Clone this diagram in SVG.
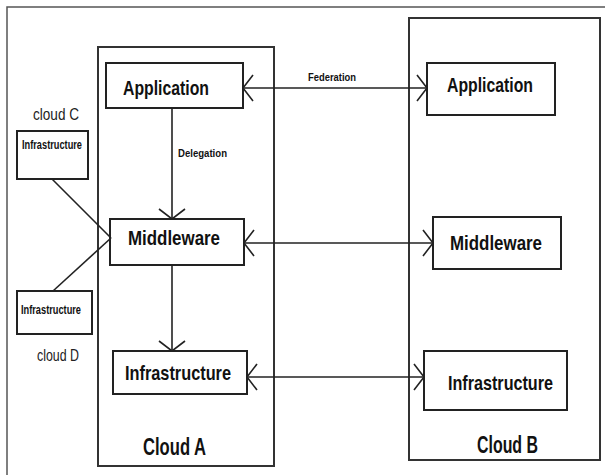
<svg xmlns="http://www.w3.org/2000/svg" width="605" height="475" viewBox="0 0 605 475">
<style>
.box{fill:#fff;stroke:#222;stroke-width:2}
.cloud{fill:none;stroke:#333;stroke-width:2}
.lbl{font-family:"Liberation Sans",Arial,sans-serif;font-weight:bold;fill:#111}
.reg{font-family:"Liberation Sans",Arial,sans-serif;fill:#222}
.ln{stroke:#222;stroke-width:1.6;fill:none}
</style>
<defs>
<marker id="ah" markerUnits="userSpaceOnUse" markerWidth="30" markerHeight="30" viewBox="-15 -15 30 30" refX="0" refY="0" orient="auto-start-reverse">
<path d="M-10,-13 L0,0 L-10,13" fill="none" stroke="#222" stroke-width="1.6"/>
</marker>
</defs>
<rect x="0" y="0" width="605" height="475" fill="#fff"/>
<rect x="7" y="7" width="640" height="500" fill="none" stroke="#555" stroke-width="1.5"/>
<g id="cloudA">
<rect class="cloud" x="98" y="47" width="176" height="419"/>
<text class="lbl" x="143" y="455" font-size="24" textLength="63" lengthAdjust="spacingAndGlyphs">Cloud A</text>
</g>
<g id="cloudB">
<rect class="cloud" x="409" y="18" width="191" height="442"/>
<text class="lbl" x="477" y="453" font-size="24" textLength="61" lengthAdjust="spacingAndGlyphs">Cloud B</text>
</g>
<g id="appA">
<rect class="box" x="106" y="63" width="137" height="45"/>
<text class="lbl" x="123" y="95" font-size="21" textLength="86" lengthAdjust="spacingAndGlyphs">Application</text>
</g>
<g id="midA">
<rect class="box" x="110" y="219" width="134" height="46"/>
<text class="lbl" x="128" y="245" font-size="21" textLength="92" lengthAdjust="spacingAndGlyphs">Middleware</text>
</g>
<g id="infraA">
<rect class="box" x="113" y="351" width="134" height="43"/>
<text class="lbl" x="125" y="380" font-size="21" textLength="106" lengthAdjust="spacingAndGlyphs">Infrastructure</text>
</g>
<g id="appB">
<rect class="box" x="427" y="63" width="128" height="52"/>
<text class="lbl" x="447" y="92" font-size="21" textLength="86" lengthAdjust="spacingAndGlyphs">Application</text>
</g>
<g id="midB">
<rect class="box" x="433" y="217" width="128" height="52"/>
<text class="lbl" x="450" y="250" font-size="21" textLength="92" lengthAdjust="spacingAndGlyphs">Middleware</text>
</g>
<g id="infraB">
<rect class="box" x="424" y="351" width="143" height="59"/>
<text class="lbl" x="448" y="390" font-size="21" textLength="105" lengthAdjust="spacingAndGlyphs">Infrastructure</text>
</g>
<g id="cloudC">
<text class="reg" x="33" y="120" font-size="17" textLength="46" lengthAdjust="spacingAndGlyphs">cloud C</text>
<rect class="box" x="17" y="131" width="71" height="48"/>
<text class="lbl" x="22" y="149" font-size="12" textLength="60" lengthAdjust="spacingAndGlyphs">Infrastructure</text>
</g>
<g id="cloudD">
<rect class="box" x="17" y="291" width="75" height="43"/>
<text class="lbl" x="21" y="314" font-size="12" textLength="60" lengthAdjust="spacingAndGlyphs">Infrastructure</text>
<text class="reg" x="37" y="361" font-size="17" textLength="42" lengthAdjust="spacingAndGlyphs">cloud D</text>
</g>
<g id="connectors">
<line class="ln" x1="243" y1="88" x2="427" y2="88" marker-start="url(#ah)" marker-end="url(#ah)"/>
<text class="lbl" x="308" y="81" font-size="11" textLength="48" lengthAdjust="spacingAndGlyphs">Federation</text>
<line class="ln" x1="172" y1="108" x2="172" y2="219" marker-end="url(#ah)"/>
<text class="lbl" x="178" y="157" font-size="11" textLength="49" lengthAdjust="spacingAndGlyphs">Delegation</text>
<line class="ln" x1="244" y1="243" x2="433" y2="243" marker-start="url(#ah)" marker-end="url(#ah)"/>
<line class="ln" x1="172" y1="265" x2="172" y2="351" marker-end="url(#ah)"/>
<line class="ln" x1="247" y1="377" x2="424" y2="377" marker-start="url(#ah)" marker-end="url(#ah)"/>
<line class="ln" x1="52" y1="179" x2="111" y2="238"/>
<line class="ln" x1="53" y1="291" x2="111" y2="238"/>
</g>
</svg>
